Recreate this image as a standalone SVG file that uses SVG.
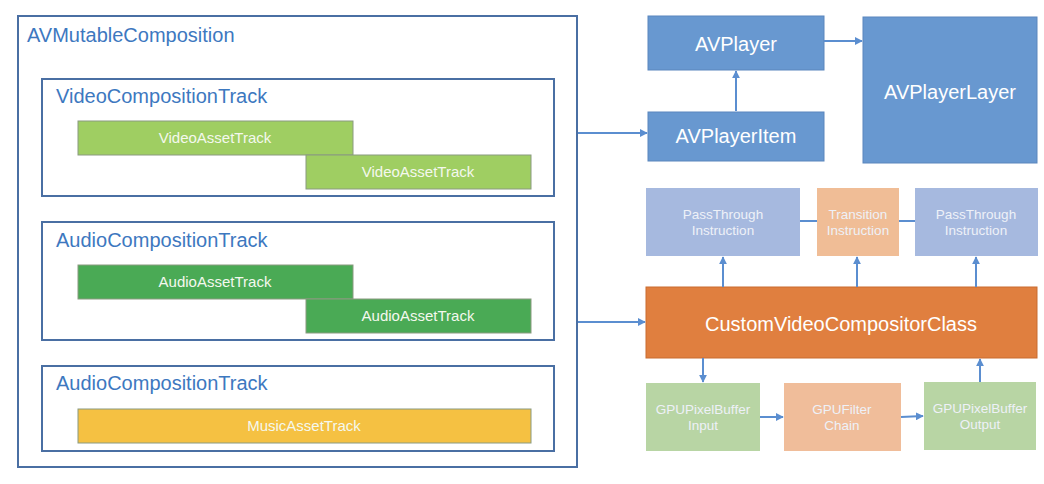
<svg xmlns="http://www.w3.org/2000/svg" width="1044" height="484" viewBox="0 0 1044 484">
<style>
text{font-family:"Liberation Sans",Arial,sans-serif}
.frame{fill:#fff;stroke:#4a6fa3;stroke-width:2}
.title{fill:#3d78bf;font-size:20px}
.asset{stroke:#8a9a80;stroke-width:1}
.atxt{fill:#f4f8ee;font-size:15px;text-anchor:middle}
.blue{fill:#6898d0;stroke:#5a86bd;stroke-width:1}
.btxt{fill:#fff;font-size:20px;text-anchor:middle}
.instr{fill:#a6b9df}
.trans{fill:#f0bd96}
.itxt{fill:#eef1f8;font-size:13.5px;text-anchor:middle}
.gpu{fill:#b8d5a4}
.filt{fill:#f0bd9a}
.conn{stroke:#5b8ed0;stroke-width:2;fill:none}
</style>
<defs>
<marker id="ah" viewBox="0 0 10 10" refX="9" refY="5" markerWidth="4" markerHeight="4" orient="auto" markerUnits="strokeWidth">
<path d="M0,0 L10,5 L0,10 z" fill="#5b8ed0"/>
</marker>
</defs>
<rect width="1044" height="484" fill="#fff"/>

<g id="composition">
<rect class="frame" x="18" y="16" width="559" height="451"/>
<text class="title" x="27" y="42">AVMutableComposition</text>
</g>

<g id="videoTrack">
<rect class="frame" x="42" y="79" width="512" height="117"/>
<text class="title" x="56" y="103">VideoCompositionTrack</text>
</g>
<g id="videoAsset1">
<rect class="asset" x="78" y="121" width="275" height="34" fill="#9fce62"/>
<text class="atxt" x="215" y="143">VideoAssetTrack</text>
</g>
<g id="videoAsset2">
<rect class="asset" x="306" y="155" width="225" height="34" fill="#9fce62"/>
<text class="atxt" x="418" y="177">VideoAssetTrack</text>
</g>

<g id="audioTrack1">
<rect class="frame" x="42" y="222" width="512" height="118"/>
<text class="title" x="56" y="247">AudioCompositionTrack</text>
</g>
<g id="audioAsset1">
<rect class="asset" x="78" y="265" width="275" height="34" fill="#4aaa55"/>
<text class="atxt" x="215" y="287">AudioAssetTrack</text>
</g>
<g id="audioAsset2">
<rect class="asset" x="306" y="299" width="225" height="34" fill="#4aaa55"/>
<text class="atxt" x="418" y="321">AudioAssetTrack</text>
</g>

<g id="audioTrack2">
<rect class="frame" x="42" y="366" width="512" height="85"/>
<text class="title" x="56" y="390">AudioCompositionTrack</text>
</g>
<g id="musicAsset">
<rect class="asset" x="78" y="409" width="453" height="34" fill="#f5c142"/>
<text class="atxt" x="304" y="431">MusicAssetTrack</text>
</g>

<g id="avPlayer">
<rect class="blue" x="648" y="16" width="176" height="54"/>
<text class="btxt" x="736" y="51">AVPlayer</text>
</g>
<g id="avPlayerItem">
<rect class="blue" x="648" y="112" width="176" height="49"/>
<text class="btxt" x="736" y="143">AVPlayerItem</text>
</g>
<g id="avPlayerLayer">
<rect class="blue" x="863" y="17" width="174" height="146"/>
<text class="btxt" x="950" y="99">AVPlayerLayer</text>
</g>

<g id="passThrough1">
<rect class="instr" x="646" y="188" width="154" height="68"/>
<text class="itxt" x="723" y="219">PassThrough</text>
<text class="itxt" x="723" y="235">Instruction</text>
</g>
<g id="transition">
<rect class="trans" x="817" y="188" width="82" height="68"/>
<text class="itxt" x="858" y="219">Transition</text>
<text class="itxt" x="858" y="235">Instruction</text>
</g>
<g id="passThrough2">
<rect class="instr" x="915" y="188" width="123" height="68"/>
<text class="itxt" x="976" y="219">PassThrough</text>
<text class="itxt" x="976" y="235">Instruction</text>
</g>

<g id="compositor">
<rect x="646" y="287" width="391" height="71" fill="#e07f3f" stroke="#c96d30" stroke-width="1"/>
<text class="btxt" x="841" y="331" fill="#fdf1e8">CustomVideoCompositorClass</text>
</g>

<g id="gpuInput">
<rect class="gpu" x="646" y="383" width="114" height="68"/>
<text class="itxt" x="703" y="414">GPUPixelBuffer</text>
<text class="itxt" x="703" y="430">Input</text>
</g>
<g id="gpuFilter">
<rect class="filt" x="784" y="383" width="117" height="68"/>
<text class="itxt" x="842" y="414">GPUFilter</text>
<text class="itxt" x="842" y="430">Chain</text>
</g>
<g id="gpuOutput">
<rect class="gpu" x="924" y="382" width="112" height="68"/>
<text class="itxt" x="980" y="413">GPUPixelBuffer</text>
<text class="itxt" x="980" y="429">Output</text>
</g>

<g id="connectors">
<line class="conn" x1="578" y1="133" x2="647" y2="133" marker-end="url(#ah)"/>
<line class="conn" x1="578" y1="322" x2="645" y2="322" marker-end="url(#ah)"/>
<line class="conn" x1="736" y1="111" x2="736" y2="71" marker-end="url(#ah)"/>
<line class="conn" x1="824" y1="41" x2="862" y2="41" marker-end="url(#ah)"/>
<line class="conn" x1="800" y1="221" x2="817" y2="221"/>
<line class="conn" x1="899" y1="221" x2="915" y2="221"/>
<line class="conn" x1="723" y1="287" x2="723" y2="257" marker-end="url(#ah)"/>
<line class="conn" x1="857" y1="287" x2="857" y2="257" marker-end="url(#ah)"/>
<line class="conn" x1="976" y1="287" x2="976" y2="257" marker-end="url(#ah)"/>
<line class="conn" x1="703" y1="358" x2="703" y2="382" marker-end="url(#ah)"/>
<line class="conn" x1="760" y1="417" x2="783" y2="417" marker-end="url(#ah)"/>
<line class="conn" x1="901" y1="417" x2="923" y2="416" marker-end="url(#ah)"/>
<line class="conn" x1="980" y1="382" x2="980" y2="359" marker-end="url(#ah)"/>
</g>
</svg>
